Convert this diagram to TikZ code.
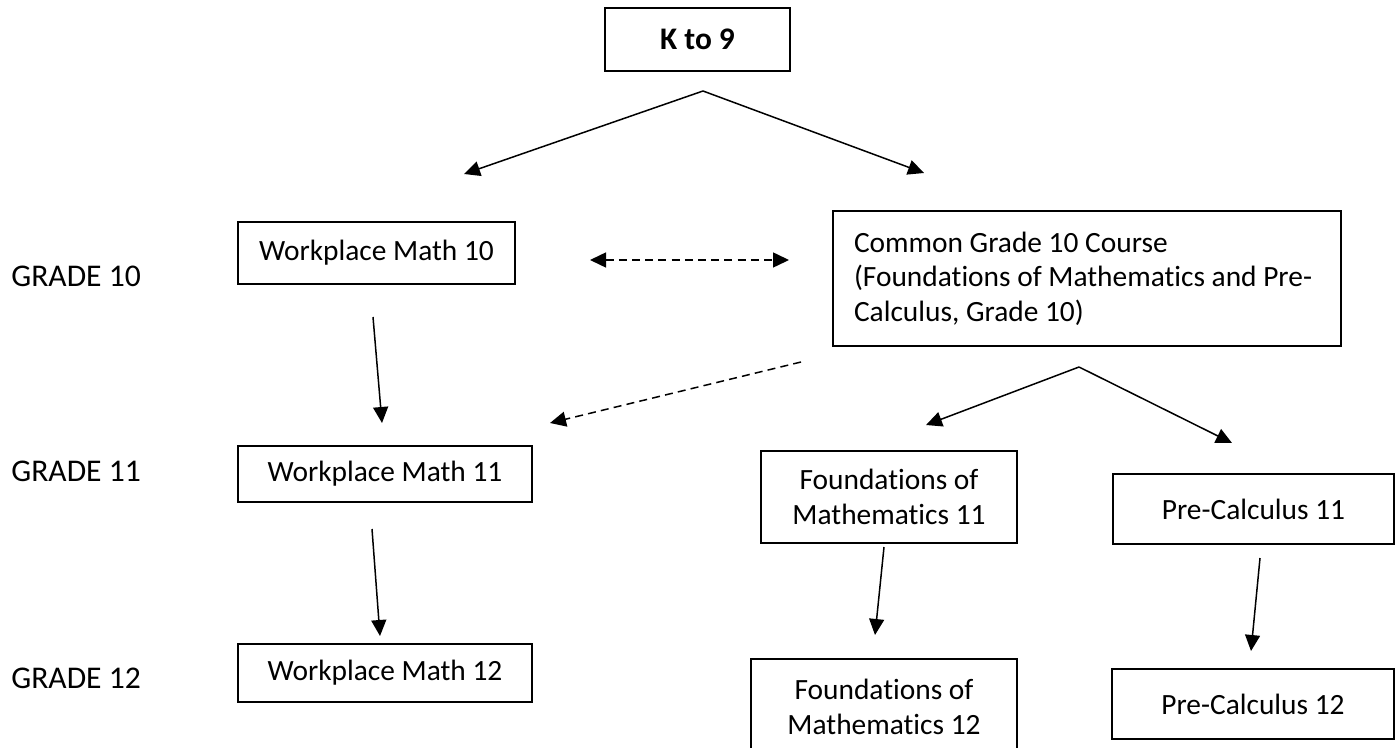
\documentclass[tikz,border=0pt]{standalone}
\usepackage{fontspec}
\setmainfont[Ligatures=NoCommon]{Carlito}
\usetikzlibrary{arrows.meta}
\begin{document}
\begin{tikzpicture}[x=0.5pt,y=-0.5pt,
  box/.style={draw, line width=0.9pt, inner sep=0pt, font=\fontsize{14.7}{17.5}\selectfont, align=center},
  conn/.style={line width=0.75pt, -{Triangle[length=8pt,width=7.5pt]}},
  dconn/.style={line width=0.75pt, dash pattern=on 4pt off 2.6pt},
  lbl/.style={anchor=west, inner sep=0pt, font=\fontsize{15.8}{18}\selectfont}]
\useasboundingbox (0,0) rectangle (1400,748);

% grade labels
\node[lbl] (g10) at (11,276) {GRADE 10};
\node[lbl] (g11) at (11,471) {GRADE 11};
\node[lbl] (g12) at (11,678) {GRADE 12};

% boxes
\node[box, minimum width=92.5pt, minimum height=31.5pt, font=\fontsize{15.7}{18}\selectfont\bfseries] (k9) at (697.5,39.5) {K to 9};
\node[box, minimum width=138.5pt, minimum height=31pt] (wm10) at (376.5,253) {Workplace Math 10};
\node[box, minimum width=147pt, minimum height=28pt] (wm11) at (385,474) {Workplace Math 11};
\node[box, minimum width=147pt, minimum height=29pt] (wm12) at (385,673) {Workplace Math 12};
\node[box, align=flush left, text width=254pt, inner xsep=0pt, minimum height=67.5pt, font=\fontsize{14.7}{17.25}\selectfont] (common) at (1087,278.5)
  {\hspace*{10.5pt}Common Grade 10 Course\\\hspace*{10.5pt}(Foundations of Mathematics and Pre-\\\hspace*{10.5pt}Calculus, Grade 10)};
\node[box, minimum width=128pt, minimum height=46pt] (f11) at (889,497) {Foundations of\\Mathematics 11};
\node[box, minimum width=133pt, minimum height=47.5pt] (f12) at (884,706.5) {Foundations of\\Mathematics 12};
\node[box, minimum width=140.5pt, minimum height=35pt] (pc11) at (1253.5,509) {Pre-Calculus 11};
\node[box, minimum width=141pt, minimum height=35pt] (pc12) at (1253,704) {Pre-Calculus 12};

% connector points
\coordinate (k9apex) at (703,91);
\coordinate (k9l) at (464,174);
\coordinate (k9r) at (924,173);
\coordinate (dblL) at (590,260);
\coordinate (dblR) at (789,260);
\coordinate (wmA) at (373,317);
\coordinate (wmB) at (382,423);
\coordinate (diagA) at (801,362);
\coordinate (diagB) at (550,423);
\coordinate (wmC) at (372,529);
\coordinate (wmD) at (380,636);
\coordinate (capex) at (1079,367);
\coordinate (cl) at (926,425);
\coordinate (cr) at (1232,443);
\coordinate (fA) at (884,547);
\coordinate (fB) at (875,635);
\coordinate (pA) at (1260,558);
\coordinate (pB) at (1251,651);

% connectors
\draw[conn] (k9apex) -- (k9l);
\draw[conn] (k9apex) -- (k9r);
\draw[dconn, {Triangle[length=8pt,width=7.5pt]}-{Triangle[length=8pt,width=7.5pt]}] (dblL) -- (dblR);
\draw[conn] (wmA) -- (wmB);
\draw[dconn, -{Triangle[length=8pt,width=7.5pt]}] (diagA) -- (diagB);
\draw[conn] (wmC) -- (wmD);
\draw[conn] (capex) -- (cl);
\draw[conn] (capex) -- (cr);
\draw[conn] (fA) -- (fB);
\draw[conn] (pA) -- (pB);
\end{tikzpicture}
\end{document}
